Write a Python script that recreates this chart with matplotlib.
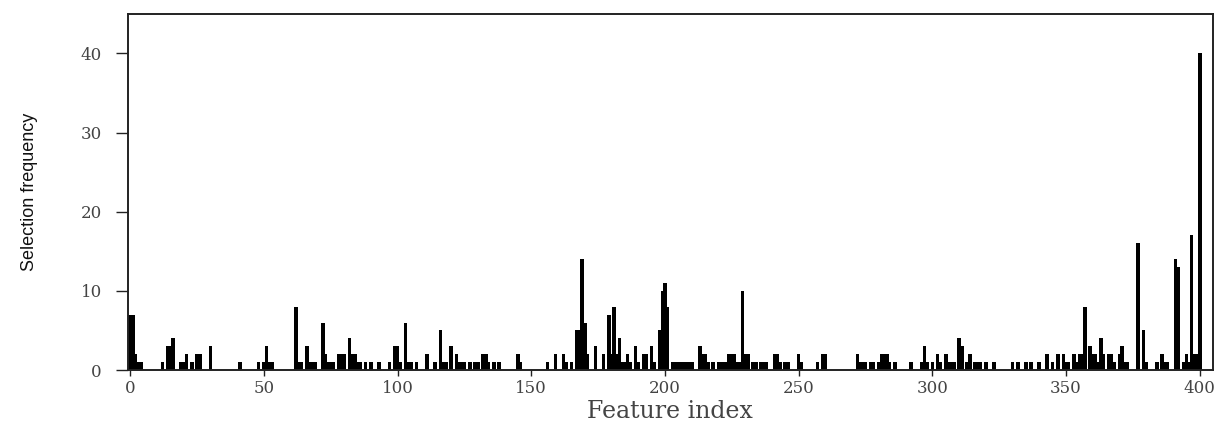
import matplotlib
matplotlib.use("Agg")
import matplotlib.pyplot as plt

features = [0, 1, 2, 3, 4,
            12, 14, 15, 16, 19, 20, 21, 23, 25, 26, 30, 41,
            48, 50, 51, 52, 53,
            62, 63, 64, 66, 67, 68, 69, 72, 73, 74, 75, 76, 78, 79, 80, 82, 83, 84, 85, 86, 88, 90, 93,
            97, 99, 100, 101, 103, 104, 105, 107, 111, 114, 116, 117, 118, 120, 122, 123, 124, 125, 127,
            129, 130, 132, 133, 134, 136, 138, 145, 146,
            156, 159, 162, 163, 165, 167, 168, 169, 170, 171, 174, 177, 179, 180, 181, 182, 183, 184, 185,
            186, 187, 189, 190, 192, 193, 195, 196, 198, 199, 200, 201, 203, 204, 205, 206, 207, 208, 209,
            210, 213, 214, 215, 216, 218, 220, 221, 222, 223, 224, 225, 226, 227, 228, 229, 230, 231, 233,
            234, 236, 237, 238, 241, 242, 243, 245, 246, 250, 251, 257, 259, 260,
            272, 273, 274, 275, 277, 278, 280, 281, 282, 283, 284, 286, 292, 296, 297, 298, 300, 302, 303,
            305, 306, 307, 308, 310, 311, 313, 314, 316, 317, 318, 320, 323, 330, 332, 335, 337, 340, 343,
            345, 347, 349, 350, 351, 353, 354, 355, 356, 357, 359, 360, 361, 362, 363, 364, 366, 367, 368,
            370, 371, 372, 373, 377, 379, 380, 384, 386, 387, 388, 391, 392, 394, 395, 396, 397, 398, 399,
            400]
freq = [7, 7, 2, 1, 1,
        1, 3, 3, 4, 1, 1, 2, 1, 2, 2, 3, 1,
        1, 1, 3, 1, 1,
        8, 1, 1, 3, 1, 1, 1, 6, 2, 1, 1, 1, 2, 2, 2, 4, 2, 2, 1, 1, 1, 1, 1,
        1, 3, 3, 1, 6, 1, 1, 1, 2, 1, 5, 1, 1, 3, 2, 1, 1, 1, 1,
        1, 1, 2, 2, 1, 1, 1, 2, 1,
        1, 2, 2, 1, 1, 5, 5, 14, 6, 2, 3, 2, 7, 2, 8, 2, 4, 1, 1,
        2, 1, 3, 1, 2, 2, 3, 1, 5, 10, 11, 8, 1, 1, 1, 1, 1, 1, 1,
        1, 3, 2, 2, 1, 1, 1, 1, 1, 1, 2, 2, 2, 1, 1, 10, 2, 2, 1,
        1, 1, 1, 1, 2, 2, 1, 1, 1, 2, 1, 1, 2, 2,
        2, 1, 1, 1, 1, 1, 1, 2, 2, 2, 1, 1, 1, 1, 3, 1, 1, 2, 1,
        2, 1, 1, 1, 4, 3, 1, 2, 1, 1, 1, 1, 1, 1, 1, 1, 1, 1, 2,
        1, 2, 2, 1, 1, 2, 1, 2, 2, 8, 3, 2, 2, 1, 4, 2, 2, 2, 1,
        2, 3, 1, 1, 16, 5, 1, 1, 2, 1, 1, 14, 13, 1, 2, 1, 17, 2, 2,
        40]

x_ticks = [0, 50, 100, 150, 200, 250, 300, 350, 400]
y_ticks = [0, 10, 20, 30, 40]

fig = plt.figure(figsize=(12.21, 4.28), dpi=100)
ax = fig.add_axes([0.1045, 0.1355, 0.889, 0.832])

ax.bar(features, freq, width=1.35, color="black", edgecolor="none", linewidth=0)

ax.set_xlim(-1, 405)
ax.set_ylim(0, 45)
ax.set_xticks(x_ticks)
ax.set_yticks(y_ticks)

for s in ax.spines.values():
    s.set_linewidth(1.4)
    s.set_color("#222222")

ax.tick_params(axis="y", direction="out", length=8.5, width=1.0, pad=10, colors="#222222",
               labelsize=12, labelcolor="#444444")
ax.tick_params(axis="x", direction="out", length=4, width=1.0, pad=3, colors="#222222",
               labelsize=12, labelcolor="#444444")
for lab in ax.get_xticklabels() + ax.get_yticklabels():
    lab.set_family("DejaVu Serif")

ax.set_xlabel("Feature index", family="DejaVu Serif", fontsize=17, color="#444444", labelpad=2)
ax.set_ylabel("Selection frequency", family=["Liberation Sans", "DejaVu Sans"],
              fontsize=13, color="#111111", labelpad=31)

fig.savefig("out.png", dpi=100)
